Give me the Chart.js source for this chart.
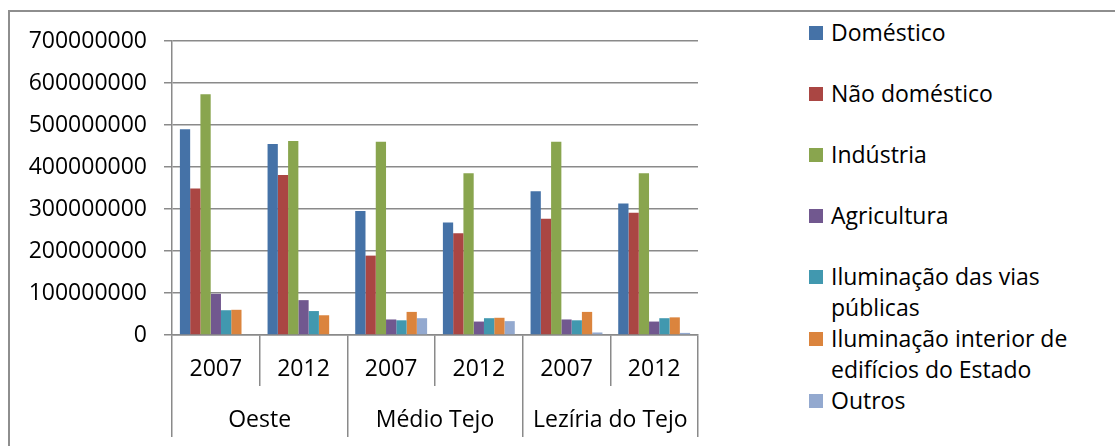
<!DOCTYPE html>
<html>
<head>
<meta charset="utf-8">
<script src="https://cdn.jsdelivr.net/npm/chart.js@4/dist/chart.umd.min.js"></script>
<style>
    body { margin: 0; background: #fff; }
    #wrap { position: relative; width: 1115px; height: 446px; overflow: hidden; }
    #frame { position: absolute; left: 8px; top: 10px; width: 1200px; height: 500px;
             border-left: 2px solid #8e8e8e; border-top: 2px solid #8e8e8e; }
    #chart_box { position: absolute; left: 0; top: 0; width: 712px; height: 446px; }
    #legend { position: absolute; left: 809px; top: 17px; width: 270px; margin: 0; padding: 0;
              list-style: none; font-family: 'Open Sans', sans-serif; font-size: 23px; line-height: 31px; color: #000; }
    #legend li { position: relative; padding-left: 22px; margin-bottom: 30px; }
    #legend li.tight { margin-bottom: 0; }
    #legend span.box { position: absolute; left: 0; top: 9px; width: 14px; height: 14px; }
</style>
</head>
<body>
<div id="wrap">
    <div id="frame"></div>
    <div id="chart_box"><canvas id="consumo_chart" width="712" height="446"></canvas></div>
    <ul id="legend"></ul>
</div>
<script>
// regioes e anos (eixo x em dois niveis)
const regions = ['Oeste', 'Médio Tejo', 'Lezíria do Tejo']
const years = ['2007', '2012']

// consumo por tipo, ordem: Oeste 2007, Oeste 2012, Médio Tejo 2007, Médio Tejo 2012, Lezíria 2007, Lezíria 2012
const domestico = [490000000, 455000000, 295000000, 268000000, 342000000, 313000000]
const nao_domestico = [349000000, 381000000, 189000000, 242000000, 277000000, 291000000]
const industria = [573000000, 462000000, 460000000, 385000000, 460000000, 385000000]
const agricultura = [98000000, 83000000, 37000000, 32000000, 37000000, 32000000]
const iluminacao_vias = [59000000, 57000000, 35000000, 40000000, 35000000, 40000000]
const iluminacao_edificios = [60000000, 47000000, 55000000, 41000000, 55000000, 42000000]
const outros = [0, 0, 40000000, 33000000, 6000000, 5000000]

const series_names = ['Doméstico', 'Não doméstico', 'Indústria', 'Agricultura',
    'Iluminação das vias públicas', 'Iluminação interior de edifícios do Estado', 'Outros']
const y_ticks = [0, 100000000, 200000000, 300000000, 400000000, 500000000, 600000000, 700000000]

const colors = ['#4572a7', '#aa4643', '#89a54e', '#71588f', '#4198af', '#db843d', '#93a9cf']
const all_series = [domestico, nao_domestico, industria, agricultura, iluminacao_vias, iluminacao_edificios, outros]

let labels = []
for (let r of regions) {
    for (let y of years) {
        labels.push(y)
    }
}

let datasets = all_series.map((values, i) => ({
    label: series_names[i],
    data: values,
    backgroundColor: colors[i],
    borderWidth: 0,
    xAxisID: 'x',
}))

const grid_color = '#8a8a8a'
Chart.defaults.font.family = "'Open Sans', sans-serif"
Chart.defaults.font.size = 23
Chart.defaults.color = '#000'

const consumo_chart = new Chart('consumo_chart', {
    type: 'bar',
    data: { labels: labels, datasets: datasets },
    options: {
        responsive: false,
        animation: false,
        datasets: { bar: { categoryPercentage: 0.82, barPercentage: 1 } },
        layout: { padding: { top: 41, right: 14, bottom: 9, left: 0 } },
        plugins: { legend: { display: false }, tooltip: { enabled: false } },
        scales: {
            y: {
                min: 0, max: 700000000,
                afterFit: (s) => { s.width = 172 },
                afterBuildTicks: (s) => { s.ticks = y_ticks.map(v => ({ value: v })) },
                ticks: { padding: 17, callback: (v) => String(v) },
                grid: { color: grid_color, lineWidth: 1.5, tickLength: 8 },
                border: { color: grid_color, width: 1.5 },
            },
            x: {
                position: 'bottom',
                offset: true,
                afterFit: (s) => { s.height = 51 },
                ticks: { padding: -30, maxRotation: 0, autoSkip: false },
                grid: { offset: true, drawOnChartArea: false, color: grid_color, lineWidth: 1.5, tickLength: 51 },
                border: { color: grid_color, width: 1.5 },
            },
            x2: {
                type: 'category',
                position: 'bottom',
                labels: regions,
                offset: true,
                afterFit: (s) => { s.height = 51 },
                ticks: { padding: -30, maxRotation: 0, autoSkip: false },
                grid: { offset: true, drawOnChartArea: false, color: grid_color, lineWidth: 1.5, tickLength: 51 },
                border: { display: false },
            },
        },
    },
})

// legenda em html (texto com quebra de linha como no original)
const legend = document.getElementById('legend')
consumo_chart.data.datasets.forEach((ds, i) => {
    const li = document.createElement('li')
    if (i >= 4) li.className = 'tight'
    const box = document.createElement('span')
    box.className = 'box'
    box.style.background = ds.backgroundColor
    li.appendChild(box)
    li.appendChild(document.createTextNode(ds.label))
    legend.appendChild(li)
})
</script>
</body>
</html>
